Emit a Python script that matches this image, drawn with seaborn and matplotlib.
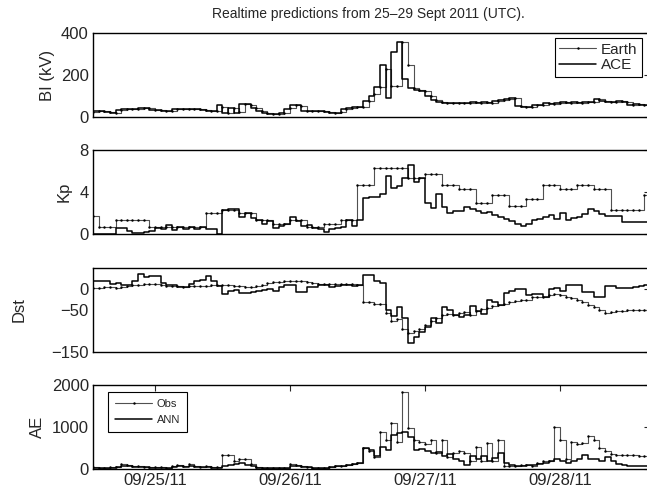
import numpy as np
import matplotlib
matplotlib.use("Agg")
import matplotlib.pyplot as plt
import seaborn as sns

# ---------------- data (hourly values, first value at 09/24/11 13:00 UTC) ----------------
START_HOUR = -11          # hours relative to 09/25/11 00:00 UTC
DAY_TICKS = [0, 24, 48, 72]
DAY_LABELS = ["09/25/11", "09/26/11", "09/27/11", "09/28/11"]
TITLE = "Realtime predictions from 25\u201329 Sept 2011 (UTC)."

bi_earth = [25, 28, 28, 25, 20, 35, 38, 40, 40, 45,
            45, 35, 35, 30, 30, 40, 38, 38, 38, 38,
            35, 28, 28, 50, 20, 45, 25, 60, 55, 45,
            30, 20, 15, 15, 20, 45, 55, 52, 30, 30,
            28, 28, 25, 20, 22, 40, 45, 48, 50, 75,
            110, 145, 230, 150, 150, 355, 250, 140, 130, 125,
            100, 81, 70, 68, 66, 68, 65, 68, 70, 66,
            70, 68, 78, 80, 85, 89, 52, 48, 50, 55,
            57, 65, 62, 66, 70, 68, 72, 68, 70, 72,
            84, 75, 73, 70, 74, 70, 57, 60, 55, 57]
bi_ace = [28, 28, 25, 20, 35, 38, 40, 40, 45, 45,
          35, 35, 30, 30, 40, 38, 38, 38, 38, 35,
          28, 28, 55, 20, 45, 20, 60, 60, 45, 30,
          20, 15, 15, 18, 40, 55, 55, 30, 30, 28,
          28, 25, 20, 20, 40, 45, 48, 50, 75, 100,
          145, 250, 90, 310, 355, 180, 140, 130, 125, 100,
          81, 70, 68, 66, 68, 65, 68, 70, 66, 70,
          68, 78, 80, 85, 89, 52, 48, 50, 55, 57,
          65, 62, 66, 70, 68, 72, 68, 70, 72, 84,
          75, 73, 70, 74, 70, 57, 60, 55, 57, 55]

kp_obs = [1.7, 0.7, 0.7, 0.7, 1.3, 1.3, 1.3, 1.3, 1.3, 1.3,
          0.7, 0.7, 0.7, 0.7, 0.7, 0.7, 0.7, 0.7, 0.7, 0.7,
          2.0, 2.0, 2.0, 2.3, 2.3, 2.3, 2.0, 2.0, 2.0, 1.3,
          1.3, 1.3, 1.0, 1.0, 1.0, 1.3, 1.3, 1.3, 0.7, 0.7,
          0.7, 1.0, 1.0, 1.0, 1.3, 1.3, 1.3, 4.7, 4.7, 4.7,
          6.3, 6.3, 6.3, 6.3, 6.3, 6.3, 5.3, 5.3, 5.3, 5.7,
          5.7, 5.7, 4.7, 4.7, 4.7, 4.3, 4.3, 4.3, 3.0, 3.0,
          3.0, 3.7, 3.7, 3.7, 2.7, 2.7, 2.7, 3.3, 3.3, 3.3,
          4.7, 4.7, 4.7, 4.3, 4.3, 4.3, 4.7, 4.7, 4.7, 4.3,
          4.3, 4.3, 2.3, 2.3, 2.3, 2.3, 2.3, 2.3, 3.7, 3.7]
kp_ann = [0.0, 0.0, 0.0, 0.0, 0.6, 0.6, 0.3, 0.1, 0.05, 0.15,
          0.3, 0.6, 0.5, 0.9, 0.4, 0.7, 0.5, 0.7, 0.45, 0.7,
          0.5, 0.5, 0.0, 2.3, 2.4, 2.4, 1.6, 2.0, 1.5, 1.3,
          1.0, 1.2, 0.6, 0.8, 1.0, 1.6, 1.2, 0.8, 0.9, 0.6,
          0.5, 0.2, 0.5, 0.6, 0.7, 1.3, 0.8, 1.3, 3.4, 3.5,
          3.5, 3.8, 5.5, 4.4, 4.6, 5.3, 6.6, 5.0, 5.3, 3.0,
          2.5, 3.8, 2.6, 2.0, 2.2, 2.2, 2.6, 2.4, 2.2, 2.0,
          2.1, 1.8, 1.6, 1.4, 1.2, 1.0, 0.8, 1.0, 1.3, 1.4,
          1.6, 1.8, 1.4, 2.0, 1.3, 1.5, 1.6, 1.9, 2.4, 2.2,
          1.9, 1.7, 1.7, 1.7, 1.1, 1.1, 1.1, 1.1, 1.1, 1.1]

dst_obs = [3, 3, 5, 5, 3, 5, 8, 10, 10, 12,
           12, 12, 10, 8, 8, 6, 5, 6, 7, 8,
           8, 9, 10, 10, 9, 8, 6, 5, 5, 7,
           10, 14, 16, 17, 18, 19, 19, 18, 16, 14,
           12, 12, 11, 11, 11, 12, 12, 10, -30, -32,
           -35, -36, -58, -75, -72, -95, -105, -100, -95, -85,
           -75, -70, -62, -60, -62, -58, -55, -62, -52, -48,
           -45, -40, -38, -35, -30, -28, -25, -25, -20, -18,
           -18, -15, -12, -15, -18, -22, -25, -30, -38, -42,
           -50, -58, -55, -52, -52, -50, -50, -50, -50, -50]
dst_ann = [18, 18, 18, 12, 14, 10, 10, 20, 35, 28,
           30, 30, 14, 10, 10, 5, 5, 12, 20, 22,
           32, 18, 8, -12, -5, -2, -10, -10, -8, -5,
           -3, 0, -5, 4, 10, 10, -6, -6, 5, 5,
           10, 10, 5, 8, 10, 10, 8, 10, 34, 34,
           20, 15, -50, -64, -42, -70, -128, -114, -102, -90,
           -70, -80, -42, -50, -62, -66, -62, -40, -52, -60,
           -26, -30, -38, -10, -5, 0, 0, -14, -12, -12,
           -18, 0, 2, -5, 10, 10, 10, -6, -6, -18,
           -18, 6, 6, 2, 2, 2, 5, 8, 10, 10]

ae_obs = [40, 30, 35, 40, 45, 110, 100, 70, 60, 50,
          55, 45, 40, 35, 80, 90, 60, 110, 60, 55,
          80, 40, 40, 330, 330, 200, 230, 230, 120, 40,
          20, 15, 15, 20, 20, 130, 90, 60, 40, 25,
          30, 30, 40, 60, 80, 95, 130, 150, 500, 420,
          280, 870, 700, 1090, 650, 1840, 970, 680, 650, 600,
          690, 370, 690, 280, 370, 420, 380, 180, 520, 180,
          610, 200, 700, 60, 80, 70, 90, 100, 80, 150,
          180, 200, 1000, 690, 250, 650, 600, 620, 780, 700,
          500, 420, 350, 340, 330, 330, 330, 300, 300, 300]
ae_ann = [30, 30, 30, 35, 40, 70, 60, 50, 45, 40,
          35, 35, 30, 30, 50, 60, 50, 60, 50, 45,
          45, 35, 30, 70, 100, 120, 140, 100, 60, 30,
          20, 20, 20, 25, 30, 80, 70, 50, 40, 30,
          30, 35, 40, 60, 70, 90, 110, 140, 500, 460,
          300, 530, 450, 810, 850, 890, 770, 450, 480, 420,
          370, 400, 320, 350, 250, 180, 100, 300, 250, 320,
          200, 260, 380, 150, 100, 60, 70, 100, 90, 130,
          150, 200, 250, 180, 150, 200, 250, 330, 250, 250,
          200, 280, 200, 130, 100, 60, 60, 60, 60, 60]

# ---------------- style ----------------
sns.set_style("white")
plt.rcParams["font.family"] = ["Liberation Sans", "DejaVu Sans"]
plt.rcParams["axes.edgecolor"] = "black"
plt.rcParams["axes.linewidth"] = 1.0

W, H = 647, 496
fig = plt.figure(figsize=(W / 100, H / 100), dpi=100)

AX_LEFT, AX_W, AX_H = 93, 557, 84


def make_ax(top_px):
    return fig.add_axes([AX_LEFT / W, 1 - (top_px + AX_H) / H, AX_W / W, AX_H / H])


def draw(ax, vals, label=None, dotted=False):
    x = START_HOUR + np.arange(len(vals))
    if dotted:
        sns.lineplot(x=x, y=vals, ax=ax, drawstyle="steps-post", color="#505050",
                     lw=0.8, marker=".", markersize=3.5, markerfacecolor="black",
                     markeredgecolor="black", markeredgewidth=0, label=label,
                     estimator=None, errorbar=None)
    else:
        sns.lineplot(x=x, y=vals, ax=ax, drawstyle="steps-post", color="black",
                     lw=1.1, label=label, estimator=None, errorbar=None)


panels = [
    (33, "BI (kV)", bi_earth, bi_ace, ("Earth", "ACE"), (0, 400), [0, 200, 400], -0.068),
    (150, "Kp", kp_obs, kp_ann, None, (0, 8), [0, 4, 8], -0.038),
    (268, "Dst", dst_obs, dst_ann, None, (-150, 50), [-150, -50, 0], -0.120),
    (385, "AE", ae_obs, ae_ann, ("Obs", "ANN"), (0, 2000), [0, 1000, 2000], -0.086),
]

xmin = START_HOUR
xmax = START_HOUR + AX_W / 5.625

for i, (top, ylab, s_dot, s_line, labels, ylim, yticks, labx) in enumerate(panels):
    ax = make_ax(top)
    draw(ax, s_dot, labels[0] if labels else None, dotted=True)
    draw(ax, s_line, labels[1] if labels else None, dotted=False)
    ax.set_xlim(xmin, xmax)
    ax.set_ylim(*ylim)
    ax.set_yticks(yticks)
    ax.set_ylabel(ylab, fontsize=12)
    ax.yaxis.set_label_coords(labx, 0.5)
    ax.set_xlabel("")
    ax.tick_params(direction="in", length=4, width=0.8, top=True, right=True,
                   labelsize=12, pad=3)
    for sp in ax.spines.values():
        sp.set_visible(True)
        sp.set_color("black")
    if i < 3:
        ax.set_xticks([])
    else:
        ax.set_xticks(DAY_TICKS)
        ax.set_xticklabels(DAY_LABELS)
    if ax.get_legend() is not None:
        ax.get_legend().remove()
    if i == 0:
        leg = ax.legend(loc="upper right", bbox_to_anchor=(0.985, 0.94), fontsize=11,
                        frameon=True, fancybox=False, edgecolor="black", framealpha=1,
                        borderaxespad=0, handlelength=2.4, handletextpad=0.3,
                        labelspacing=0.1, borderpad=0.3, numpoints=1)
        leg.get_frame().set_linewidth(0.8)
    elif i == 3:
        leg = ax.legend(loc="upper left", bbox_to_anchor=(0.027, 0.917), fontsize=8,
                        frameon=True, fancybox=False, edgecolor="black", framealpha=1,
                        borderaxespad=0, handlelength=3.4, handletextpad=0.4,
                        labelspacing=0.6, borderpad=0.6, numpoints=1)
        leg.get_frame().set_linewidth(0.8)

fig.text(368 / W, 1 - 14 / H, TITLE, ha="center", va="center", fontsize=10)

fig.savefig("out.png", dpi=100)
